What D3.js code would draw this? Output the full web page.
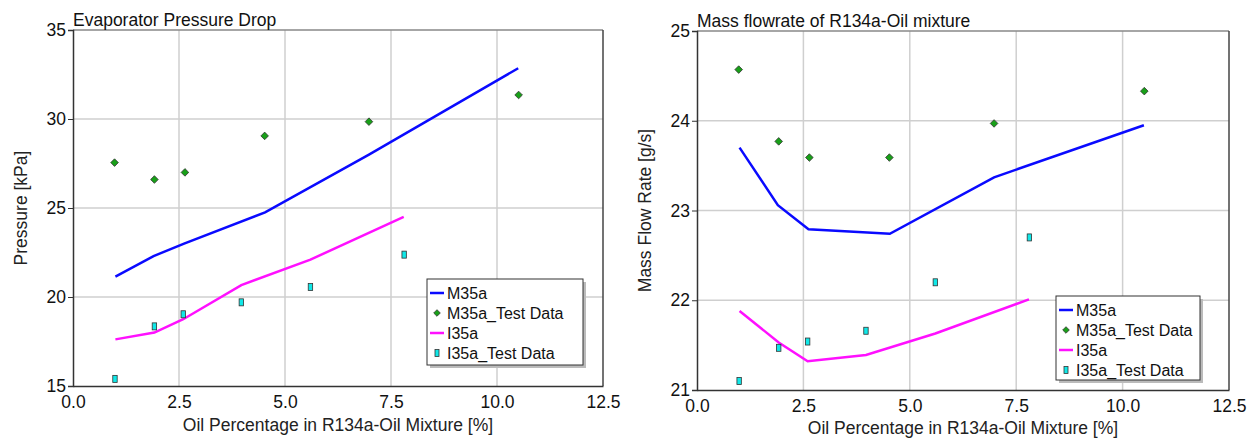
<!DOCTYPE html>
<html><head><meta charset="utf-8">
<script src="https://cdn.jsdelivr.net/npm/d3@7"></script>
<style>body{margin:0;background:#fff}svg{font-family:"Liberation Sans",Arial,sans-serif}</style>
</head><body><svg id="c" width="1253" height="439"></svg>
<script>
// ---- data ----
const m35aX = [1.0, 1.9, 2.62, 4.53, 6.98, 10.5];
const i35aX = [1.0, 1.92, 2.6, 3.97, 5.6, 7.8];
const m35aTestX = [0.98, 1.92, 2.64, 4.52, 6.98, 10.51];
const i35aTestX = [0.99, 1.92, 2.6, 3.97, 5.6, 7.81];

const pM35a = [21.15, 22.3, 23.0, 24.75, 28.0, 32.85];
const pM35aTest = [27.55, 26.6, 27.0, 29.05, 29.85, 31.35];
const pI35a = [17.62, 18.0, 18.75, 20.67, 22.1, 24.5];
const pI35aTest = [15.4, 18.35, 19.03, 19.7, 20.56, 22.38];

const mM35a = [23.70, 23.06, 22.79, 22.74, 23.37, 23.95];
const mM35aTest = [24.57, 23.77, 23.59, 23.59, 23.97, 24.33];
const mI35a = [21.88, 21.53, 21.32, 21.39, 21.63, 22.01];
const mI35aTest = [21.10, 21.47, 21.54, 21.66, 22.20, 22.70];

const xTicks = [0, 2.5, 5, 7.5, 10, 12.5];
const pTicks = [15, 20, 25, 30, 35];
const mTicks = [21, 22, 23, 24, 25];
const legendLabels = ["M35a", "M35a_Test Data", "I35a", "I35a_Test Data"];

const svg = d3.select("#c");

function chart(o) {
  const x = d3.scaleLinear().domain([0, 12.5]).range([o.l, o.r]);
  const y = d3.scaleLinear().domain(o.yDom).range([o.b, o.t]);
  const g = svg.append("g");
  // grid
  g.append("g").selectAll("line").data(xTicks.slice(1, -1)).join("line")
    .attr("x1", d => x(d)).attr("x2", d => x(d)).attr("y1", o.t).attr("y2", o.b)
    .attr("stroke", "#cfcfcf").attr("stroke-width", 1.5);
  g.append("g").selectAll("line").data(o.yTicks.slice(1, -1)).join("line")
    .attr("y1", d => y(d)).attr("y2", d => y(d)).attr("x1", o.l).attr("x2", o.r)
    .attr("stroke", "#cfcfcf").attr("stroke-width", 1.5);
  // frame
  g.append("line").attr("x1", o.l).attr("x2", o.r).attr("y1", o.t).attr("y2", o.t).attr("stroke", "#888").attr("stroke-width", 1.5);
  g.append("line").attr("x1", o.r).attr("x2", o.r).attr("y1", o.t).attr("y2", o.b).attr("stroke", "#444").attr("stroke-width", 1.5);
  // axes
  const xa = g.append("g").attr("transform", `translate(0,${o.b})`)
    .call(d3.axisBottom(x).tickValues(xTicks).tickFormat(d3.format(".1f")).tickSize(0).tickPadding(o.xPad));
  const ya = g.append("g").attr("transform", `translate(${o.l},0)`)
    .call(d3.axisLeft(y).tickValues(o.yTicks).tickFormat(d3.format("d")).tickSize(5).tickPadding(2));
  [xa, ya].forEach(a => {
    a.select(".domain").attr("stroke", "#333").attr("stroke-width", 1.5);
    a.selectAll("line").attr("stroke", "#333");
    a.selectAll("text").attr("font-size", 17.5).attr("fill", "#111").attr("font-family", "Liberation Sans, Arial, sans-serif");
  });
  // title
  g.append("text").attr("x", o.l).attr("y", o.t - 4).attr("font-size", 17.5).attr("fill", "#111").text(o.title);
  g.append("text").attr("x", (o.l + o.r) / 2).attr("y", o.xTitleY).attr("text-anchor", "middle")
    .attr("font-size", 17.5).attr("fill", "#222").text("Oil Percentage in R134a-Oil Mixture [%]");
  g.append("text").attr("transform", `translate(${o.yTitleX},${(o.t + o.b) / 2}) rotate(-90)`)
    .attr("text-anchor", "middle").attr("font-size", 17.5).attr("fill", "#222").text(o.yTitle);

  const line = d3.line().x(d => x(d[0])).y(d => y(d[1]));
  g.append("path").datum(d3.zip(m35aX, o.m)).attr("d", line).attr("fill", "none").attr("stroke", "#0a0aff").attr("stroke-width", 2.5);
  g.append("path").datum(d3.zip(i35aX, o.i)).attr("d", line).attr("fill", "none").attr("stroke", "#ff10ff").attr("stroke-width", 2.5);
  const diamond = (cx, cy, s) => `M${cx},${cy - s}L${cx + s},${cy}L${cx},${cy + s}L${cx - s},${cy}Z`;
  g.append("g").selectAll("path").data(d3.zip(m35aTestX, o.mt)).join("path")
    .attr("d", d => diamond(x(d[0]), y(d[1]), 3.8)).attr("fill", "#18a018").attr("stroke", "#333").attr("stroke-width", 0.8);
  g.append("g").selectAll("rect").data(d3.zip(i35aTestX, o.it)).join("rect")
    .attr("x", d => x(d[0]) - 2.2).attr("y", d => y(d[1]) - 3.5).attr("width", 4.4).attr("height", 7)
    .attr("fill", "#10e8e8").attr("stroke", "#333").attr("stroke-width", 0.8);

  // legend
  const L = o.leg;
  g.append("rect").attr("x", L.x + 3).attr("y", L.y + 3).attr("width", L.w).attr("height", L.h).attr("fill", "#bbb");
  g.append("rect").attr("x", L.x).attr("y", L.y).attr("width", L.w).attr("height", L.h).attr("fill", "#fff").attr("stroke", "#333").attr("stroke-width", 1);
  legendLabels.forEach((lab, k) => {
    const cy = L.y + 14 + k * 20;
    if (k === 0 || k === 2) {
      g.append("line").attr("x1", L.x + 3).attr("x2", L.x + 17).attr("y1", cy).attr("y2", cy)
        .attr("stroke", k === 0 ? "#0a0aff" : "#ff10ff").attr("stroke-width", 2.5);
    } else if (k === 1) {
      g.append("path").attr("d", diamond(L.x + 10, cy, 3.3)).attr("fill", "#18a018").attr("stroke", "#333").attr("stroke-width", 0.8);
    } else {
      g.append("rect").attr("x", L.x + 8).attr("y", cy - 3.5).attr("width", 4).attr("height", 7)
        .attr("fill", "#10e8e8").attr("stroke", "#333").attr("stroke-width", 0.8);
    }
    g.append("text").attr("x", L.x + 20).attr("y", cy + 5.5).attr("font-size", 16).attr("fill", "#111").text(lab);
  });
}

chart({l: 73, r: 603, t: 30, b: 386, yDom: [15, 35], yTicks: pTicks, m: pM35a, mt: pM35aTest, i: pI35a, it: pI35aTest,
  title: "Evaporator Pressure Drop", yTitle: "Pressure [kPa]", yTitleX: 27, xTitleY: 431, xPad: 10,
  leg: {x: 427, y: 279, w: 156, h: 86}});
chart({l: 697, r: 1229, t: 31, b: 390, yDom: [21, 25], yTicks: mTicks, m: mM35a, mt: mM35aTest, i: mI35a, it: mI35aTest,
  title: "Mass flowrate of R134a-Oil mixture", yTitle: "Mass Flow Rate [g/s]", yTitleX: 651, xTitleY: 434, xPad: 10,
  leg: {x: 1056, y: 296, w: 144, h: 84}});
</script></body></html>
